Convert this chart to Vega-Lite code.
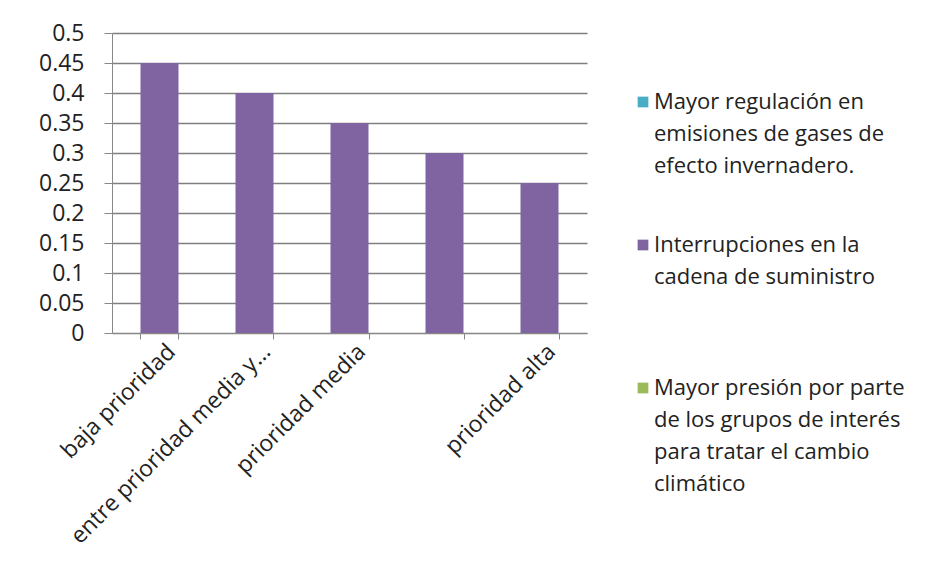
{
  "$schema": "https://vega.github.io/schema/vega-lite/v6.json",
  "width": 475,
  "height": 300,
  "autosize": "none",
  "padding": {"left": 112, "top": 33, "right": 356, "bottom": 249},
  "background": "white",
  "data": {
    "values": [
      {"categoria": "baja prioridad", "serie": "Interrupciones en la|cadena de suministro| ", "valor": 0.45},
      {"categoria": "entre prioridad media y...", "serie": "Interrupciones en la|cadena de suministro| ", "valor": 0.4},
      {"categoria": "prioridad media", "serie": "Interrupciones en la|cadena de suministro| ", "valor": 0.35},
      {"categoria": "entre prioridad media y alta", "serie": "Interrupciones en la|cadena de suministro| ", "valor": 0.3},
      {"categoria": "prioridad alta", "serie": "Interrupciones en la|cadena de suministro| ", "valor": 0.25}
    ]
  },
  "mark": {"type": "bar"},
  "encoding": {
    "x": {
      "field": "categoria",
      "type": "nominal",
      "sort": null,
      "scale": {"paddingInner": 0.6, "paddingOuter": 0.3},
      "axis": {
        "title": null,
        "labelAngle": -45,
        "labelAlign": "right",
        "labelBaseline": "top",
        "labelExpr": "datum.value == 'entre prioridad media y alta' ? '' : datum.label",
        "tickBand": "extent",
        "labelFont": "Open Sans",
        "labelFontSize": 23,
        "labelColor": "#222222",
        "labelPadding": 1,
        "labelOffset": 4,
        "labelLimit": 400,
        "labelOverlap": false,
        "domainColor": "#888888",
        "tickColor": "#888888",
        "tickSize": 6,
        "grid": false
      }
    },
    "y": {
      "field": "valor",
      "type": "quantitative",
      "scale": {"domain": [0, 0.5], "nice": false},
      "axis": {
        "title": null,
        "values": [0, 0.05, 0.1, 0.15, 0.2, 0.25, 0.3, 0.35, 0.4, 0.45, 0.5],
        "format": "~g",
        "labelFont": "Open Sans",
        "labelFontSize": 23,
        "labelColor": "#222222",
        "labelPadding": 20,
        "domainColor": "#888888",
        "tickColor": "#888888",
        "tickSize": 8,
        "grid": true,
        "gridColor": "#7f7f7f",
        "gridWidth": 1.5
      }
    },
    "color": {
      "field": "serie",
      "type": "nominal",
      "scale": {
        "domain": [
          "Mayor regulación en|emisiones de gases  de|efecto invernadero.",
          "Interrupciones en la|cadena de suministro| ",
          "Mayor presión por parte|de los grupos de interés|para tratar  el cambio|climático"
        ],
        "range": ["#4BACC6", "#8064A2", "#9BBB59"]
      },
      "legend": {
        "title": null,
        "orient": "none",
        "legendX": 520,
        "legendY": 58,
        "symbolType": "square",
        "symbolSize": 115,
        "symbolStrokeWidth": 0,
        "labelExpr": "split(datum.label, '|')",
        "labelFont": "Open Sans",
        "labelFontSize": 22,
        "labelColor": "#222222",
        "labelLimit": 320,
        "labelBaseline": "top",
        "labelOffset": 0,
        "rowPadding": 57,
        "encode": {
          "labels": {"update": {"lineHeight": {"value": 32}, "dy": {"value": -10}}}
        }
      }
    }
  },
  "config": {
    "view": {"stroke": null}
  }
}
